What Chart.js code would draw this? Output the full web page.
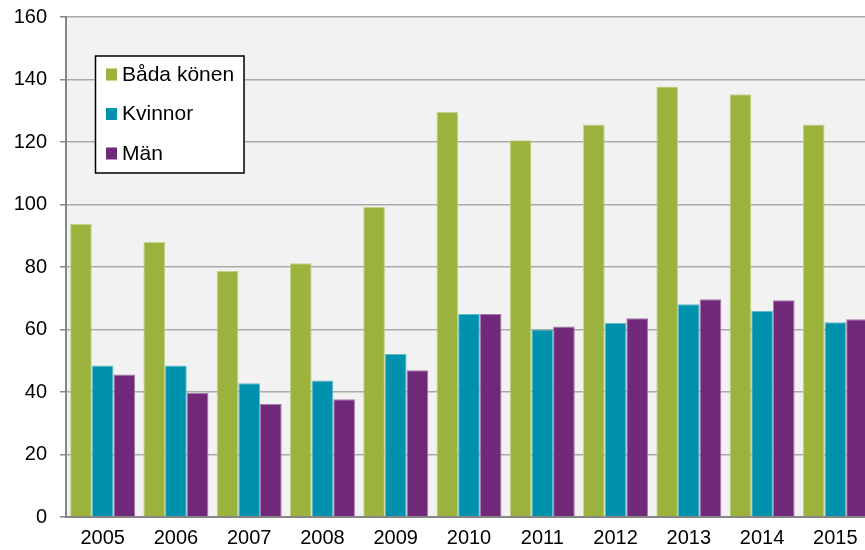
<!DOCTYPE html>
<html>
<head>
<meta charset="utf-8">
<script src="https://cdn.jsdelivr.net/npm/chart.js@4"></script>
<style>
  html, body { margin: 0; padding: 0; background: #fff; overflow: hidden; }
  #wrap { width: 880px; height: 550px; }
</style>
</head>
<body>
<div id="wrap"><canvas id="grafico" width="880" height="550"></canvas></div>
<script>
// data
const years = ["2005", "2006", "2007", "2008", "2009", "2010", "2011", "2012", "2013", "2014", "2015"];
const badaKonen = [93.8, 88.0, 78.8, 81.2, 99.2, 129.6, 120.6, 125.6, 137.8, 135.3, 125.6];
const kvinnor = [48.5, 48.5, 42.8, 43.7, 52.2, 65.0, 60.0, 62.1, 68.1, 65.9, 62.3];
const man = [45.6, 39.7, 36.2, 37.7, 47.0, 65.0, 61.0, 63.6, 69.7, 69.4, 63.3];
const yTicks = [0, 20, 40, 60, 80, 100, 120, 140, 160];

const FONT = "'Liberation Sans', Arial, sans-serif";

// grå bakgrund i ritytan
const plotBg = {
    id: "plotBg",
    beforeDraw(chart) {
        const a = chart.chartArea, c = chart.ctx;
        c.save();
        c.fillStyle = "#f2f2f2";
        c.fillRect(a.left, a.top, a.right - a.left, a.bottom - a.top);
        c.restore();
    }
};

// legend inne i diagrammet
const boxLegend = {
    id: "boxLegend",
    afterDraw(chart) {
        const c = chart.ctx;
        c.save();
        c.fillStyle = "#ffffff";
        c.fillRect(95.5, 56, 148.5, 117);
        c.strokeStyle = "#000000";
        c.lineWidth = 1.5;
        c.strokeRect(95.5, 56, 148.5, 117);
        c.font = "21px " + FONT;
        c.textBaseline = "middle";
        chart.data.datasets.forEach((ds, i) => {
            const y = 74.5 + i * 39.5;
            c.fillStyle = ds.backgroundColor;
            c.fillRect(106, y - 6, 11, 12);
            c.fillStyle = "#000000";
            c.fillText(ds.label, 122, y + 0.5);
        });
        c.restore();
    }
};

document.addEventListener("DOMContentLoaded", function () {
    const ctx = document.getElementById("grafico").getContext("2d");
    new Chart(ctx, {
        type: "bar",
        data: {
            labels: years,
            datasets: [
                { label: "Båda könen", data: badaKonen, backgroundColor: "#9bb23c", borderColor: "#c3d38a", borderWidth: 1 },
                { label: "Kvinnor", data: kvinnor, backgroundColor: "#0092ad", borderColor: "#5fbccc", borderWidth: 1 },
                { label: "Män", data: man, backgroundColor: "#702878", borderColor: "#a57aab", borderWidth: 1 }
            ]
        },
        options: {
            responsive: false,
            animation: false,
            layout: { padding: { top: 17, right: 8, left: 0, bottom: 0 } },
            categoryPercentage: 0.887,
            barPercentage: 1.0,
            plugins: {
                legend: { display: false },
                tooltip: { enabled: false }
            },
            scales: {
                x: {
                    grid: { display: false, drawTicks: false },
                    border: { color: "#868686", width: 2 },
                    ticks: { color: "#000", font: { family: FONT, size: 20 }, padding: 9, maxRotation: 0 },
                    afterFit(s) { s.height = 33; }
                },
                y: {
                    min: 0,
                    max: 160,
                    afterBuildTicks(s) { s.ticks = yTicks.map(v => ({ value: v })); },
                    grid: { color: "#a9a9a9", lineWidth: 1.5, tickLength: 6, tickColor: "#868686" },
                    border: { color: "#868686", width: 2 },
                    ticks: { color: "#000", font: { family: FONT, size: 20, lineHeight: 0.4 }, padding: 13 },
                    afterFit(s) { s.width = 66; }
                }
            }
        },
        plugins: [plotBg, boxLegend]
    });
});
</script>
</body>
</html>
